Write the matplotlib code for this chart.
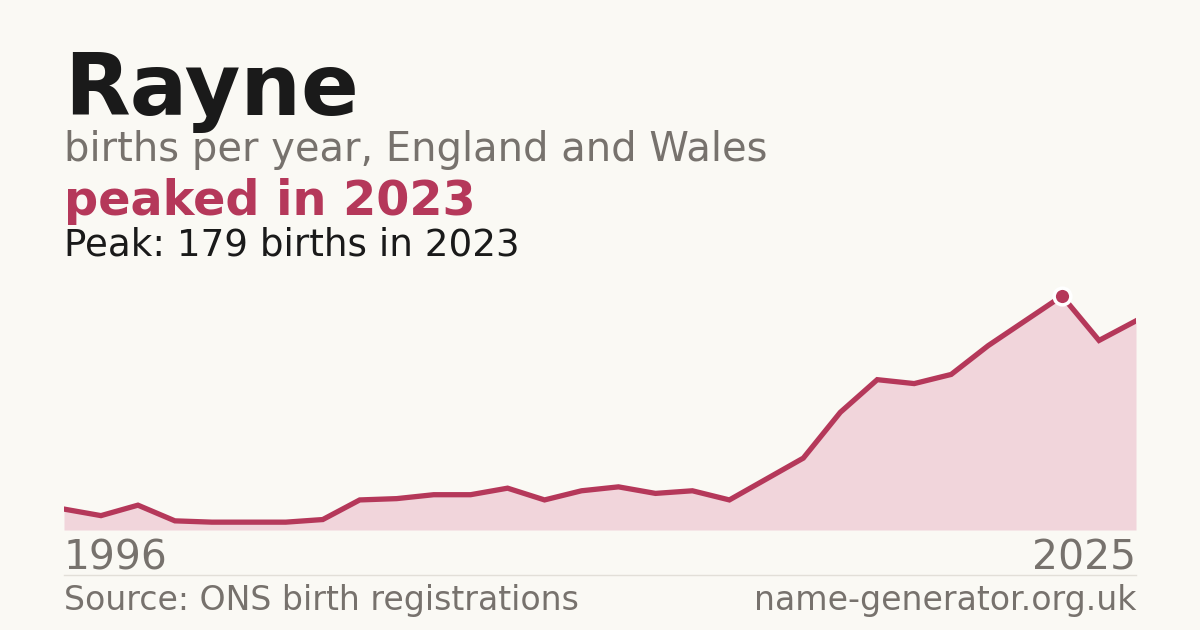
import numpy as np
import matplotlib.pyplot as plt

# data
years = list(range(1996, 2026))
births = [16, 11, 19, 7, 6, 6, 6, 8, 23, 24, 27, 27, 32, 23, 30, 33, 28, 30, 23, 39,
          55, 90, 115, 112, 119, 141, 160, 179, 145, 160]
peak_year = 2023
peak_value = 179

BG = "#faf9f4"
RED = "#b5385a"
FILL = "#f1d5db"
GREY = "#77726d"
DARK = "#1a1a1a"

W, H = 1200, 630
fig = plt.figure(figsize=(12, 6.3), dpi=100, facecolor=BG)

def fx(px):
    return px / W

def fy(py):
    return 1 - py / H

# chart area: baseline at y=530, peak drawn near y=296
ax_bottom = 530
ax_top = 280
ax = fig.add_axes([fx(64), fy(ax_bottom), fx(1136) - fx(64), (ax_bottom - ax_top) / H])
ax.set_facecolor(BG)
ax.fill_between(years, births, 0, color=FILL, lw=0)
ax.plot(years, births, color=RED, lw=3.8, solid_joinstyle="miter")
ax.plot([peak_year], [peak_value], "o", ms=12, color=RED,
        mec="white", mew=2.5, zorder=5)
ax.set_xlim(years[0], years[-1])
ax.set_ylim(0, peak_value * (ax_bottom - ax_top) / 234)
ax.axis("off")

# titles
fig.text(fx(64), fy(115), "Rayne", fontsize=61.5, fontweight="bold", color=DARK, va="baseline")
fig.text(fx(64), fy(161), "births per year, England and Wales", fontsize=28.8, color=GREY, va="baseline")
fig.text(fx(64), fy(215), "peaked in 2023", fontsize=34.4, fontweight="bold", color=RED, va="baseline")
fig.text(fx(64), fy(255), "Peak: 179 births in 2023", fontsize=26.8, color=DARK, va="baseline")

# year labels
fig.text(fx(64), fy(570), str(years[0]), fontsize=29.4, color=GREY, va="baseline")
fig.text(fx(1136), fy(570), str(years[-1]), fontsize=29.4, color=GREY, va="baseline", ha="right")

# footer
fig.add_artist(plt.Line2D([fx(64), fx(1136)], [fy(575), fy(575)], color="#e2dfd8", lw=1))
fig.text(fx(64), fy(610), "Source: ONS birth registrations", fontsize=23.9, color=GREY, va="baseline")
fig.text(fx(1136), fy(610), "name-generator.org.uk", fontsize=23.9, color=GREY, va="baseline", ha="right")

fig.savefig("out.png", dpi=100, facecolor=BG)
